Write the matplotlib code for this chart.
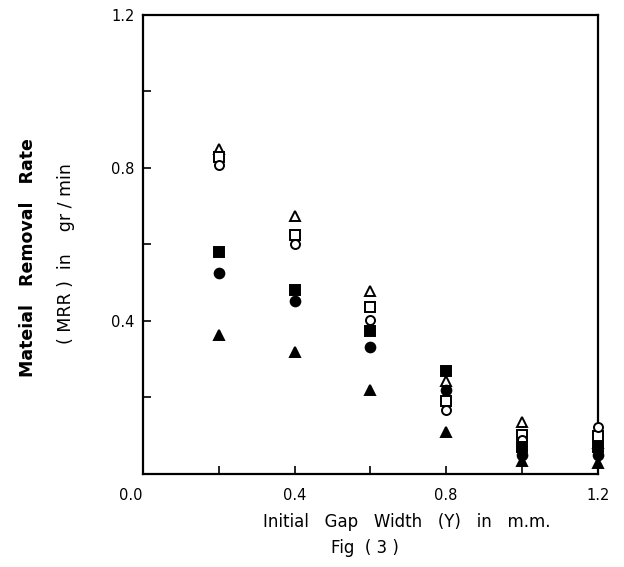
import matplotlib.pyplot as plt

# gap width (mm) at which each series was measured
gap_width = [0.2, 0.4, 0.6, 0.8, 1.0, 1.2]

# material removal rate (gr/min)
open_triangle = [0.85, 0.675, 0.478, 0.243, 0.135, 0.08]
open_square = [0.829, 0.625, 0.437, 0.191, 0.102, 0.10]
open_circle = [0.808, 0.601, 0.403, 0.167, 0.09, 0.122]
filled_square = [0.58, 0.481, 0.374, 0.269, 0.07, 0.07]
filled_circle = [0.526, 0.452, 0.332, 0.22, 0.05, 0.05]
filled_triangle = [0.363, 0.319, 0.22, 0.11, 0.035, 0.03]

series = [
    (open_triangle, "^", "white", 6.5),
    (open_square, "s", "white", 6.5),
    (open_circle, "o", "white", 6.5),
    (filled_square, "s", "black", 7),
    (filled_circle, "o", "black", 7),
    (filled_triangle, "^", "black", 7),
]

plt.rcParams["font.family"] = ["DejaVu Sans"]

fig = plt.figure(figsize=(6.24, 5.67), dpi=100)
ax = fig.add_axes([0.229, 0.164, 0.729, 0.81])

for values, marker, face, size in series:
    ax.plot(gap_width, values, linestyle="none", marker=marker,
            markersize=size, markerfacecolor=face, markeredgecolor="black",
            markeredgewidth=1.4, clip_on=False, zorder=3)

ax.set_xlim(0, 1.2)
ax.set_ylim(0, 1.2)

ax.set_xticks([0.0, 0.2, 0.4, 0.6, 0.8, 1.0, 1.2])
ax.set_xticklabels(["0.0", "", "0.4", "", "0.8", "", "1.2"])
ax.set_yticks([0.0, 0.2, 0.4, 0.6, 0.8, 1.0, 1.2])
ax.set_yticklabels(["", "", "0.4", "", "0.8", "", "1.2"])

ax.tick_params(direction="in", length=6, width=1.2, labelsize=10.5,
               top=False, right=False)
ax.tick_params(axis="x", pad=10)
ax.tick_params(axis="y", pad=6)
for label in ax.get_xticklabels():
    if label.get_text() == "0.0":
        label.set_horizontalalignment("right")

for spine in ax.spines.values():
    spine.set_linewidth(1.6)

ax.set_xlabel("Initial   Gap   Width   (Y)   in   m.m.", fontsize=12)
ax.xaxis.set_label_coords(0.58, -0.085)

fig.text(0.585, 0.033, "Fig  ( 3 )", fontsize=12, ha="center", va="center")

fig.text(0.045, 0.545, "Mateial   Removal   Rate", fontsize=12.5,
         fontweight="bold", rotation=90, ha="center", va="center")
fig.text(0.105, 0.553, "( MRR )  in    gr / min", fontsize=12.5,
         rotation=90, ha="center", va="center")

fig.savefig("out.png", dpi=100)
